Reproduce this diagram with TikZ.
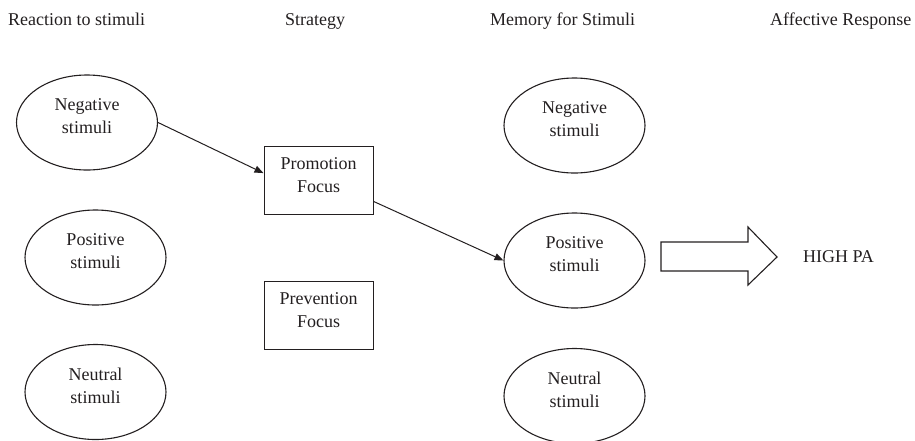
\documentclass[tikz,border=0pt]{standalone}
\usepackage{fontspec}
\setmainfont{Liberation Serif}
\usetikzlibrary{arrows.meta,shapes.geometric,calc}
\definecolor{ink}{HTML}{231F20}
\begin{document}
\begin{tikzpicture}[x={(1pt,0)},y={(0,-1pt)},
  ell/.style={draw=ink,ellipse,minimum width=141pt,minimum height=95pt,inner sep=0pt,line width=1.1pt},
  boxn/.style={draw=ink,rectangle,minimum width=109pt,minimum height=68pt,inner sep=0pt,line width=0.95pt},
  lbl/.style={align=center,text=ink,font=\fontsize{18}{23}\selectfont,inner sep=0pt,yshift=6pt},
  hdr/.style={anchor=base west,text=ink,font=\fontsize{18}{23}\selectfont,inner sep=0pt},
  conn/.style={draw=ink,line width=1pt,-{Triangle[length=9pt,width=7pt]}}
]
\useasboundingbox (0,0) rectangle (915,440);
% headers
\node[hdr] (h1) at (8,25) {Reaction to stimuli};
\node[hdr] (h2) at (285,25) {Strategy};
\node[hdr] (h3) at (490,25) {Memory for Stimuli};
\node[hdr] (h4) at (770,25) {Affective Response};
% left column
\node[ell] (ln) at (87,122.5) {};
\node[lbl] (lnt) at (ln) {Negative\\stimuli};
\node[ell] (lp) at (95.5,257.5) {};
\node[lbl] (lpt) at (lp) {Positive\\stimuli};
\node[ell] (lu) at (95.5,392) {};
\node[lbl] (lut) at (lu) {Neutral\\stimuli};
% strategy
\node[boxn] (pro) at (318.5,180) {};
\node[lbl,yshift=-1pt] (prot) at (pro) {Promotion\\Focus};
\node[boxn] (pre) at (318.5,315) {};
\node[lbl,yshift=-1pt] (pret) at (pre) {Prevention\\Focus};
% memory column
\node[ell] (rn) at (574.5,125.5) {};
\node[lbl] (rnt) at (rn) {Negative\\stimuli};
\node[ell] (rp) at (574.5,260.5) {};
\node[lbl] (rpt) at (rp) {Positive\\stimuli};
\node[ell] (ru) at (574.5,396) {};
\node[lbl] (rut) at (ru) {Neutral\\stimuli};
% connectors
\draw[conn] (ln.east) -- ($(pro.north west)!0.4!(pro.south west)$);
\draw[conn] ($(pro.north east)!0.81!(pro.south east)$) -- (rp.west);
% block arrow
\draw[draw=ink,line width=1.1pt,line join=miter] (661,242) -- (748,242) -- (748,227) -- (777,257) -- (748,285) -- (748,271) -- (661,271) -- cycle;
\node[inner sep=0pt,text=ink,font=\fontsize{18}{23}\selectfont] (hpa) at (838.5,257) {HIGH PA};
\end{tikzpicture}
\end{document}
